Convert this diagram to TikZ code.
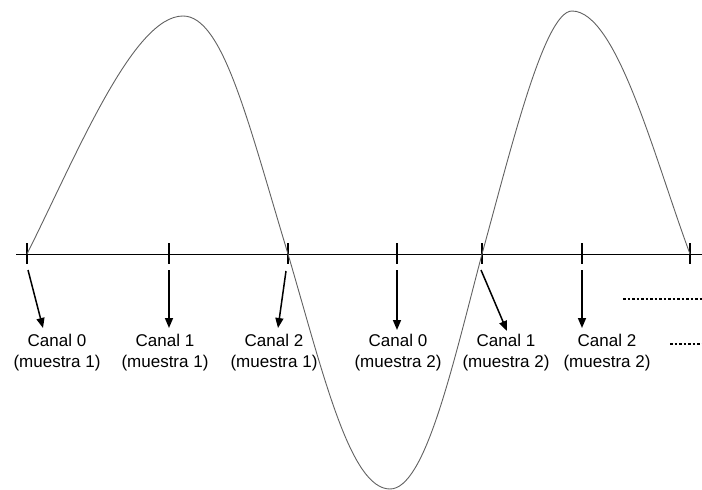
\documentclass[tikz,border=0pt]{standalone}
\usepackage{fontspec}
\setmainfont{Liberation Sans}
\usetikzlibrary{arrows.meta}
\begin{document}
\begin{tikzpicture}[x=1pt,y=-1pt,
  wave/.style={draw=black!62, line width=0.9pt},
  axisline/.style={draw=black, line width=1pt},
  tickmark/.style={draw=black, line width=1.6pt},
  samplearrow/.style={draw=black, line width=1.5pt, -{Triangle[length=10pt,width=8pt]}},
  chlabel/.style={font=\fontsize{17}{21}\selectfont, align=center, inner sep=0pt, anchor=north},
  moredots/.style={draw=black, line width=2.5pt, dash pattern=on 2.5pt off 2pt}]
\useasboundingbox (0,0) rectangle (702,490);
% axis
\coordinate (axL) at (16,254);
\coordinate (axR) at (702,254);
\draw[axisline] (axL) -- (axR);
% tick positions
\foreach \n/\x in {0/27,1/169,2/288,3/397,4/482,5/582,6/690}{
  \coordinate (t\n) at (\x,254);
  \draw[tickmark] (\x,243) -- (\x,264);
}
% signal
\draw[wave] (t0) .. controls (77,154) and (133,16) .. (183,16)
  .. controls (223,16) and (248,122) .. (t2)
  .. controls (323,373) and (350,489) .. (390,489)
  .. controls (425,489) and (452,368) .. (t4)
  .. controls (510,153) and (544,11) .. (572,11)
  .. controls (617,11) and (655,160) .. (t6);
% labels
\node[chlabel] (l0) at (57,334) {Canal 0\\(muestra 1)};
\node[chlabel] (l1) at (165,334) {Canal 1\\(muestra 1)};
\node[chlabel] (l2) at (274,334) {Canal 2\\(muestra 1)};
\node[chlabel] (l3) at (398,334) {Canal 0\\(muestra 2)};
\node[chlabel] (l4) at (506,334) {Canal 1\\(muestra 2)};
\node[chlabel] (l5) at (607,334) {Canal 2\\(muestra 2)};
% arrows
\coordinate (s0) at (28,270);  \coordinate (e0) at (43,328);
\coordinate (s1) at (169,270); \coordinate (e1) at (169,328);
\coordinate (s2) at (286,271); \coordinate (e2) at (278,328);
\coordinate (s3) at (397,270); \coordinate (e3) at (397,330);
\coordinate (s4) at (481,270); \coordinate (e4) at (507,331);
\coordinate (s5) at (582,270); \coordinate (e5) at (582,328);
\foreach \n in {0,...,5}{ \draw[samplearrow] (s\n) -- (e\n); }
% continuation dots
\coordinate (d1a) at (623,299); \coordinate (d1b) at (702,299);
\coordinate (d2a) at (670,344); \coordinate (d2b) at (702,344);
\draw[moredots] (d1a) -- (d1b);
\draw[moredots] (d2a) -- (d2b);
\end{tikzpicture}
\end{document}
